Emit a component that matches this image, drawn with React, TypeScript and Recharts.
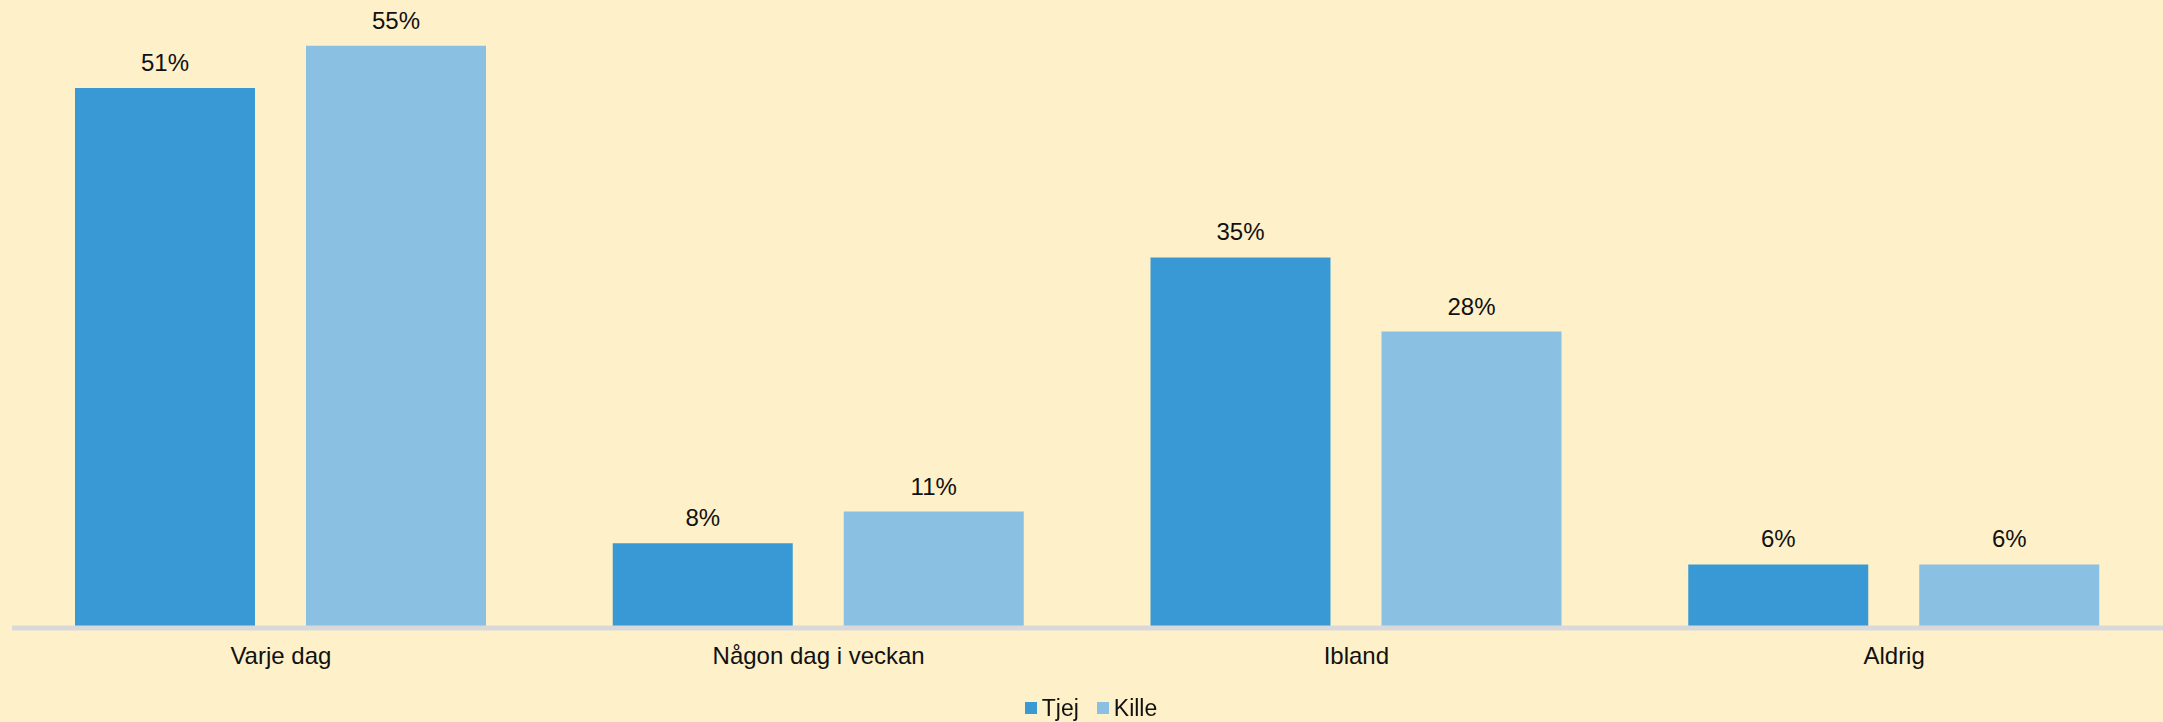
import React from 'react';
import { BarChart, Bar, XAxis, YAxis, LabelList, Legend } from 'recharts';

const categories = ['Varje dag', 'Någon dag i veckan', 'Ibland', 'Aldrig'];
const tjejValues = [51, 8, 35, 6];
const killeValues = [55, 11, 28, 6];
const seriesNames = ['Tjej', 'Kille'];
const seriesColors = ['#3899D5', '#8AC1E2'];

const data = categories.map((c, i) => ({
  name: c,
  [seriesNames[0]]: tjejValues[i],
  [seriesNames[1]]: killeValues[i],
}));

const FONT = '"Liberation Sans", Arial, sans-serif';

const renderLegend = (props: any) => {
  const payload = [...(props.payload || [])].sort(
    (a: any, b: any) => seriesNames.indexOf(a.value) - seriesNames.indexOf(b.value)
  );
  return (
    <div
      style={{
        display: 'flex',
        justifyContent: 'center',
        alignItems: 'center',
        height: 30,
        paddingLeft: 19,
        fontFamily: FONT,
        fontSize: 23,
        color: '#111',
      }}
    >
      {payload.map((p: any, i: number) => (
        <div key={i} style={{ display: 'flex', alignItems: 'center', marginLeft: i === 0 ? 0 : 18 }}>
          <div style={{ width: 12, height: 12, background: p.color, marginRight: 5 }} />
          <span>{p.value}</span>
        </div>
      ))}
    </div>
  );
};

export default function App() {
  return (
    <div
      style={{
        position: 'fixed',
        top: 0,
        left: 0,
        width: 2163,
        height: 722,
        background: '#FEF0C8',
        fontFamily: FONT,
      }}
    >
      <BarChart
        width={2163}
        height={722}
        data={data}
        margin={{ top: 14, right: 0, left: 12, bottom: 64 }}
        barGap={51}
      >
        <YAxis hide domain={[0, 58]} />
        <XAxis
          dataKey="name"
          height={30}
          axisLine={{ stroke: '#D9D9D9', strokeWidth: 5 }}
          tickLine={false}
          tickSize={6}
          tickMargin={13}
          tick={{ fill: '#111', fontSize: 24, fontFamily: FONT }}
          interval={0}
        />
        <Legend
          verticalAlign="middle"
          layout="horizontal"
          wrapperStyle={{ top: 693, left: 0, width: 2163 }}
          content={renderLegend}
        />
        <Bar dataKey={seriesNames[0]} fill={seriesColors[0]} barSize={180} isAnimationActive={false}>
          <LabelList
            dataKey={seriesNames[0]}
            position="top"
            offset={17}
            formatter={(v: any) => `${v}%`}
            fill="#111"
            fontSize={24}
            fontFamily={FONT}
          />
        </Bar>
        <Bar dataKey={seriesNames[1]} fill={seriesColors[1]} barSize={180} isAnimationActive={false}>
          <LabelList
            dataKey={seriesNames[1]}
            position="top"
            offset={17}
            formatter={(v: any) => `${v}%`}
            fill="#111"
            fontSize={24}
            fontFamily={FONT}
          />
        </Bar>
      </BarChart>
    </div>
  );
}
